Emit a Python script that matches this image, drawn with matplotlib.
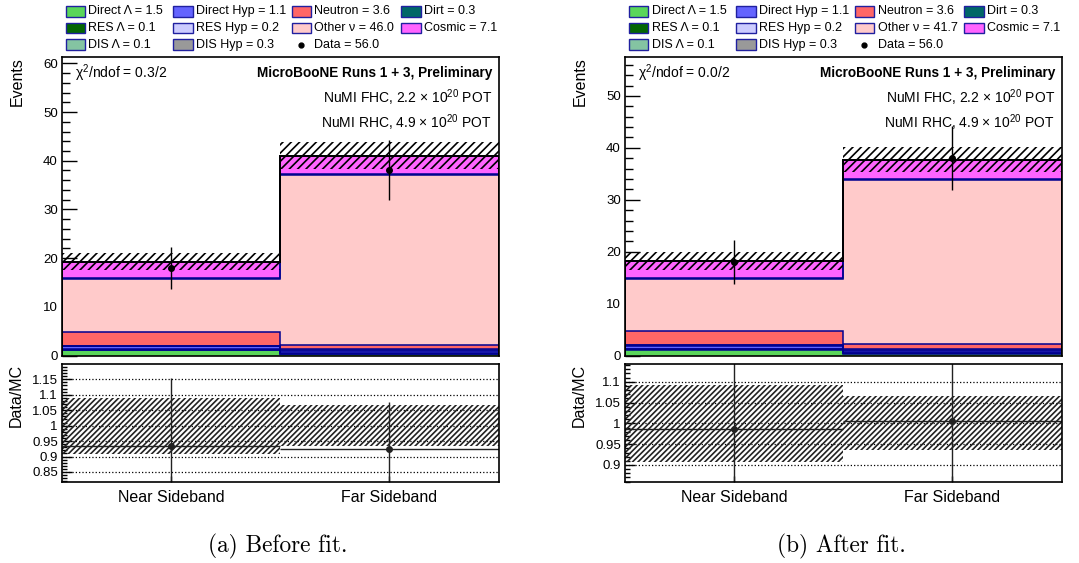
import numpy as np
import matplotlib
matplotlib.use("Agg")
import matplotlib.pyplot as plt
from matplotlib.patches import Rectangle
from matplotlib.lines import Line2D
from matplotlib.ticker import MultipleLocator, FuncFormatter

plt.rcParams['font.family'] = ['Liberation Sans', 'DejaVu Sans']
plt.rcParams['mathtext.fontset'] = 'custom'
plt.rcParams['mathtext.rm'] = 'Liberation Sans'
plt.rcParams['mathtext.it'] = 'Liberation Sans:italic'
plt.rcParams['mathtext.bf'] = 'Liberation Sans:bold'
plt.rcParams['hatch.linewidth'] = 1.2

# ---------------- data ----------------
bin_labels = ['Near Sideband', 'Far Sideband']
bin_edges = [0.0, 1.0, 2.0]

# per-bin event counts (near, far)
direct_lambda = [1.15, 0.35]
res_lambda = [0.05, 0.05]
dis_lambda = [0.05, 0.05]
direct_hyp = [0.6, 0.5]
res_hyp = [0.1, 0.1]
dis_hyp = [0.1, 0.2]
neutron = [2.7, 0.9]
other_nu_prefit = [11.0, 35.0]
other_nu_postfit = [10.0, 31.7]
dirt = [0.1, 0.2]
cosmic = [3.4, 3.7]
data = [18.0, 38.0]

mc_err_prefit = [1.75, 2.7]
mc_err_postfit = [1.7, 2.45]
chi2_values = [0.3, 0.0]
ndof = 2

names = ['Direct Λ', 'RES Λ', 'DIS Λ', 'Direct Hyp', 'RES Hyp', 'DIS Hyp',
         'Neutron', 'Other ν', 'Dirt', 'Cosmic']
colors = ['#5ad65a', '#046604', '#84c4a2', '#6464ff', '#ccccff', '#999999',
          '#ff6666', '#ffcaca', '#006767', '#ff64ff']
# legend slots (column, row)
slots = [(0, 0), (0, 1), (0, 2), (1, 0), (1, 1), (1, 2), (2, 0), (2, 1), (3, 0), (3, 1)]
data_slot = (2, 2)

panels = [
    dict(other=other_nu_prefit, err=mc_err_prefit, chi2=chi2_values[0],
         ylim=(0, 61.3), rlim=(0.8186, 1.1995), caption='(a) Before fit.'),
    dict(other=other_nu_postfit, err=mc_err_postfit, chi2=chi2_values[1],
         ylim=(0, 57.5), rlim=(0.8599, 1.1425), caption='(b) After fit.'),
]

# ---------------- layout (pixels) ----------------
W, H = 1079, 563
fig = plt.figure(figsize=(W / 100, H / 100), dpi=100)
panel_left = [62, 625]
panel_width = 436.5
main_top, main_bottom = 57, 355.5
ratio_top, ratio_bottom = 364, 481.7
navy = '#000090'


def fx(x):
    return x / W


def fy(y):
    return 1 - y / H


def fmt_tick(v, pos):
    return f'{round(v, 3):g}'


centers = np.array([0.5, 1.5])

for p, L in zip(panels, panel_left):
    R = L + panel_width
    ax = fig.add_axes([fx(L), fy(main_bottom), panel_width / W, (main_bottom - main_top) / H])
    rax = fig.add_axes([fx(L), fy(ratio_bottom), panel_width / W, (ratio_bottom - ratio_top) / H])

    stack = [direct_lambda, res_lambda, dis_lambda, direct_hyp, res_hyp, dis_hyp,
             neutron, p['other'], dirt, cosmic]
    bottom = np.zeros(2)
    for vals, col in zip(stack, colors):
        vals = np.asarray(vals)
        ax.bar(bin_edges[:-1], vals, bottom=bottom, width=1.0, align='edge',
               facecolor=col, edgecolor='none', linewidth=0, zorder=2)
        bottom = bottom + vals
        ax.stairs(bottom, bin_edges, baseline=0, fill=False, color=navy,
                  linewidth=1.1, zorder=2.5)
    total = bottom
    err = np.asarray(p['err'])

    ax.bar(bin_edges[:-1], 2 * err, bottom=total - err, width=1.0, align='edge',
           facecolor='none', edgecolor='black', hatch='////', linewidth=0, zorder=3)
    ax.stairs(total, bin_edges, color='black', linewidth=1.4, zorder=4)

    d = np.asarray(data)
    ax.errorbar(centers, d, yerr=np.sqrt(d), fmt='o', color='black', ms=4,
                elinewidth=1.0, capsize=0, zorder=5)

    ax.set_xlim(0, 2)
    ax.set_ylim(*p['ylim'])
    ax.yaxis.set_major_locator(MultipleLocator(10))
    ax.yaxis.set_minor_locator(MultipleLocator(2))
    ax.set_xticks(centers)
    ax.tick_params(axis='y', which='major', direction='in', length=10.8, width=1.0,
                   labelsize=9.5, pad=3, right=False)
    ax.tick_params(axis='y', which='minor', direction='in', length=5.5, width=1.0, right=False)
    ax.tick_params(axis='x', which='major', direction='in', length=4.5, width=1.5,
                   labelbottom=False, top=False)
    for s in ax.spines.values():
        s.set_linewidth(1.2)
        s.set_zorder(6)

    # annotations
    ax_text_y = [72.7, 98.0, 122.7]
    fig.text(fx(L + 13), fy(ax_text_y[0]), f'χ$^{{2}}$/ndof = {p["chi2"]:.1f}/{ndof}',
             ha='left', va='center', fontsize=10)
    fig.text(fx(R - 6.5), fy(ax_text_y[0]), 'MicroBooNE Runs 1 + 3, Preliminary',
             ha='right', va='center', fontsize=9.8, fontweight='bold')
    fig.text(fx(R - 6.5), fy(ax_text_y[1]), 'NuMI FHC, 2.2 × 10$^{20}$ POT',
             ha='right', va='center', fontsize=10)
    fig.text(fx(R - 6.5), fy(ax_text_y[2]), 'NuMI RHC, 4.9 × 10$^{20}$ POT',
             ha='right', va='center', fontsize=10)
    fig.text(fx(L - 45), fy(main_top), 'Events', rotation=90, ha='center', va='top',
             fontsize=11.5)

    # ratio panel
    ratio = d / total
    rerr = np.sqrt(d) / total
    frac = err / total
    rax.grid(axis='y', which='major', linestyle=':', color='black', linewidth=0.9, zorder=0)
    rax.bar(bin_edges[:-1], 2 * frac, bottom=1 - frac, width=1.0, align='edge',
            facecolor='none', edgecolor='#222222', hatch='//////', linewidth=0, zorder=2)
    rax.errorbar(centers, ratio, xerr=0.5, yerr=rerr, fmt='o', color='#222222', ms=4,
                 elinewidth=1.0, capsize=0, zorder=4)
    rax.set_xlim(0, 2)
    rax.set_ylim(*p['rlim'])
    rax.yaxis.set_major_locator(MultipleLocator(0.05))
    rax.yaxis.set_minor_locator(MultipleLocator(0.01))
    rax.yaxis.set_major_formatter(FuncFormatter(fmt_tick))
    rax.set_xticks(centers)
    rax.set_xticklabels(bin_labels)
    rax.tick_params(axis='y', which='major', direction='in', length=7, width=1.0,
                    labelsize=9.5, pad=3, right=False)
    rax.tick_params(axis='y', which='minor', direction='in', length=3.5, width=1.0, right=False)
    rax.tick_params(axis='x', which='major', direction='in', length=4, width=1.0,
                    labelsize=11.5, pad=6, top=False)
    for s in rax.spines.values():
        s.set_linewidth(1.2)
        s.set_zorder(6)
    fig.text(fx(L - 45.5), fy(ratio_top), 'Data/MC', rotation=90, ha='center', va='top',
             fontsize=11.5)

    # legend
    col_x = [3.5, 111, 229.5, 339]
    row_y = [11.3, 28.0, 44.7]
    bw, bh = 19.5, 10.5
    for name, vals, col, (c, r) in zip(names, stack, colors, slots):
        x0 = L + col_x[c]
        yc = row_y[r]
        fig.add_artist(Rectangle((fx(x0), fy(yc + bh / 2)), bw / W, bh / H,
                                 transform=fig.transFigure, facecolor=col,
                                 edgecolor='#2020a0', linewidth=1.0))
        fig.text(fx(x0 + bw + 3.5), fy(yc), f'{name} = {sum(vals):.1f}',
                 ha='left', va='center', fontsize=9)
    c, r = data_slot
    x0 = L + col_x[c]
    fig.add_artist(Line2D([fx(x0 + bw / 2)], [fy(row_y[r])], transform=fig.transFigure,
                          marker='o', ms=3.5, color='black', linestyle='none'))
    fig.text(fx(x0 + bw + 3.5), fy(row_y[r]), f'Data = {sum(data):.1f}',
             ha='left', va='center', fontsize=9)

    fig.text(fx(L + panel_width / 2 - 2), fy(546.7), p['caption'], family='cmr10',
             ha='center', va='center', fontsize=16.8)

fig.savefig('out.png', dpi=100)
